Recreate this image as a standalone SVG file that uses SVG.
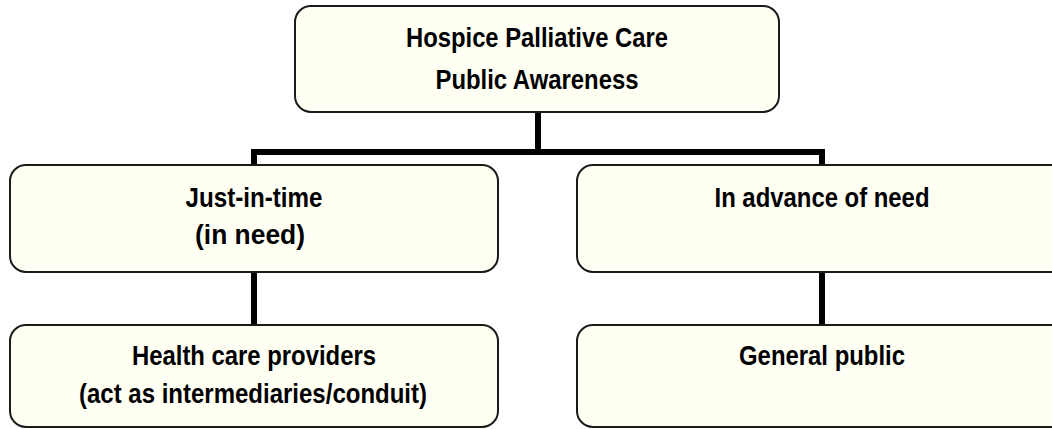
<svg xmlns="http://www.w3.org/2000/svg" width="1052" height="429" viewBox="0 0 1052 429">
<style>
.box{fill:#FFFFF4;stroke:#1a1a1a;stroke-width:2}
.t{font-family:"Liberation Sans",Arial,sans-serif;font-weight:bold;font-size:27px;fill:#000;text-anchor:middle}
.c{stroke:#000;stroke-width:6;fill:none}
</style>
<rect width="1052" height="429" fill="#fff"/>
<g id="connectors">
<line class="c" x1="538" y1="112" x2="538" y2="152"/>
<line class="c" x1="254" y1="152" x2="822" y2="152"/>
<line class="c" x1="254" y1="149" x2="254" y2="165"/>
<line class="c" x1="822" y1="149" x2="822" y2="165"/>
<line class="c" x1="254" y1="272" x2="254" y2="325"/>
<line class="c" x1="822" y1="272" x2="822" y2="325"/>
</g>
<g id="top">
<rect class="box" x="295" y="6" width="484" height="106" rx="16"/>
<text class="t" x="537" y="47" textLength="262" lengthAdjust="spacingAndGlyphs">Hospice Palliative Care</text>
<text class="t" x="537" y="89" textLength="203" lengthAdjust="spacingAndGlyphs">Public Awareness</text>
</g>
<g id="just-in-time">
<rect class="box" x="10" y="165" width="488" height="107" rx="16"/>
<text class="t" x="254" y="207" textLength="137" lengthAdjust="spacingAndGlyphs">Just-in-time</text>
<text class="t" x="250" y="244" textLength="110" lengthAdjust="spacingAndGlyphs">(in need)</text>
</g>
<g id="in-advance">
<rect class="box" x="577" y="165" width="490" height="107" rx="16"/>
<text class="t" x="822" y="207" textLength="215" lengthAdjust="spacingAndGlyphs">In advance of need</text>
</g>
<g id="health-care">
<rect class="box" x="10" y="325" width="488" height="102" rx="16"/>
<text class="t" x="254" y="365" textLength="244" lengthAdjust="spacingAndGlyphs">Health care providers</text>
<text class="t" x="253" y="403" textLength="348" lengthAdjust="spacingAndGlyphs">(act as intermediaries/conduit)</text>
</g>
<g id="general-public">
<rect class="box" x="577" y="325" width="490" height="102" rx="16"/>
<text class="t" x="822" y="365" textLength="166" lengthAdjust="spacingAndGlyphs">General public</text>
</g>
</svg>
